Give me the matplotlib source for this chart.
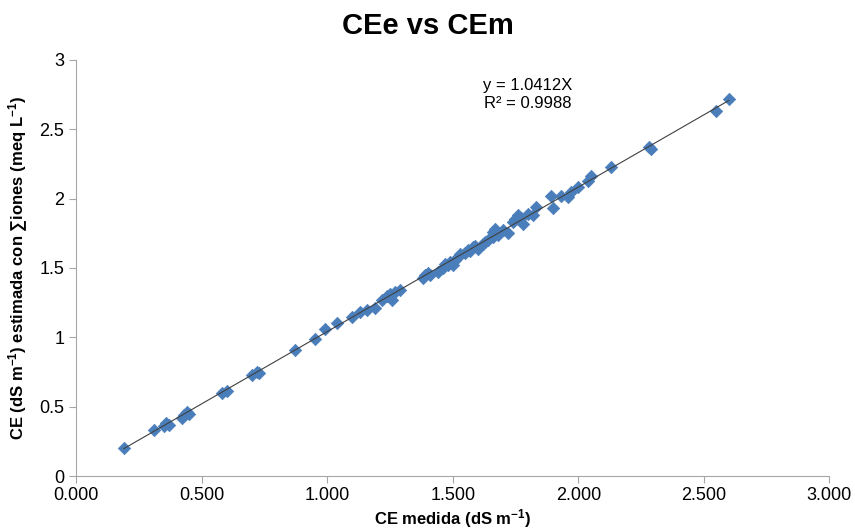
import numpy as np
import matplotlib.pyplot as plt

plt.rcParams['font.family'] = ['Liberation Sans', 'DejaVu Sans']
plt.rcParams['mathtext.fontset'] = 'custom'
plt.rcParams['mathtext.rm'] = 'Liberation Sans'
plt.rcParams['mathtext.it'] = 'Liberation Sans'
plt.rcParams['mathtext.bf'] = 'Liberation Sans:bold'

# measured EC (x) and EC estimated from sum of ions (y)
ce_medida = [0.19, 0.31, 0.35, 0.36, 0.37, 0.42, 0.43, 0.44, 0.45, 0.58, 0.60,
             0.70, 0.72, 0.73, 0.87, 0.95, 0.99, 1.04, 1.10, 1.13, 1.16, 1.19,
             1.22, 1.24, 1.25, 1.26, 1.27, 1.29, 1.38, 1.39, 1.40, 1.41, 1.44,
             1.46, 1.47, 1.48, 1.49, 1.50, 1.51, 1.52, 1.53, 1.55, 1.56, 1.57,
             1.58, 1.59, 1.60, 1.62, 1.63, 1.64, 1.66, 1.66, 1.67, 1.68, 1.70,
             1.72, 1.74, 1.75, 1.76, 1.77, 1.78, 1.80, 1.82, 1.83, 1.89, 1.90,
             1.93, 1.96, 1.97, 2.00, 2.04, 2.05, 2.13, 2.28, 2.29, 2.55, 2.60]
ce_estimada = [0.20, 0.33, 0.36, 0.38, 0.37, 0.42, 0.44, 0.46, 0.45, 0.60, 0.61,
               0.73, 0.75, 0.74, 0.91, 0.99, 1.06, 1.10, 1.15, 1.18, 1.20, 1.21,
               1.27, 1.30, 1.31, 1.27, 1.33, 1.34, 1.43, 1.45, 1.46, 1.45, 1.47,
               1.50, 1.53, 1.52, 1.54, 1.52, 1.56, 1.58, 1.60, 1.61, 1.63, 1.62,
               1.65, 1.66, 1.64, 1.67, 1.69, 1.70, 1.72, 1.76, 1.78, 1.74, 1.77,
               1.75, 1.83, 1.85, 1.88, 1.86, 1.82, 1.89, 1.88, 1.94, 2.02, 1.93,
               2.02, 2.01, 2.05, 2.08, 2.13, 2.16, 2.23, 2.37, 2.36, 2.63, 2.72]
pendiente = 1.0412
r2 = 0.9988

x = np.array(ce_medida)
y = np.array(ce_estimada)

fig = plt.figure(figsize=(8.55, 5.29), dpi=100)
ax = fig.add_axes([0.089, 0.100, 0.881, 0.787])

ax.scatter(x, y, marker='D', s=40, color='#4a7ebb', edgecolors='#4a7ebb',
           linewidths=0.5, zorder=3)
xl = np.array([x.min(), x.max()])
ax.plot(xl, pendiente * xl, color='#404040', lw=0.8, zorder=4)

ax.set_xlim(0, 3)
ax.set_ylim(0, 3)
ax.set_xticks(np.arange(0, 3.01, 0.5))
ax.set_xticklabels([f'{v:.3f}' for v in np.arange(0, 3.01, 0.5)])
ax.set_yticks(np.arange(0, 3.01, 0.5))
ax.set_yticklabels(['0', '0.5', '1', '1.5', '2', '2.5', '3'])

for s in ['top', 'right']:
    ax.spines[s].set_visible(False)
for s in ['left', 'bottom']:
    ax.spines[s].set_color('#a6a6a6')
ax.tick_params(axis='both', colors='#a6a6a6', labelcolor='black',
               labelsize=13, length=5, direction='out')
ax.tick_params(axis='x', pad=3)

fig.suptitle('CEe vs CEm', x=0.5, y=0.95, fontsize=21, fontweight='bold', va='center')
ax.set_xlabel('CE medida (dS m$^{\\mathbf{-1}}$)', fontsize=12, fontweight='bold')
ax.xaxis.set_label_coords(0.5, -0.075)
ax.set_ylabel('CE (dS m$^{\\mathbf{-1}}$) estimada con ∑iones (meq L$^{\\mathbf{-1}}$)',
              fontsize=12, fontweight='bold')
ax.yaxis.set_label_coords(-0.061, 0.5)

ax.text(0.600, 0.916, f'y = {pendiente:.4f}X\nR² = {r2:.4f}', transform=ax.transAxes,
        fontsize=12, ha='center', va='center', linespacing=1.25)

fig.savefig('out.png', dpi=100)
